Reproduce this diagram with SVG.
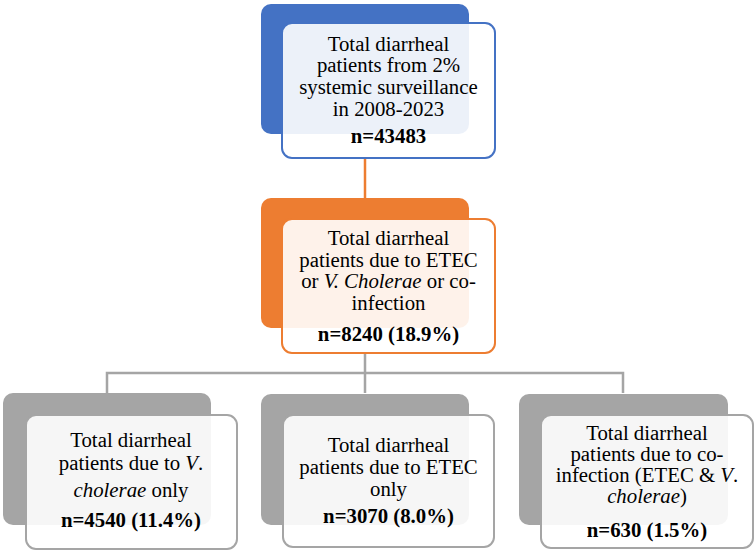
<svg xmlns="http://www.w3.org/2000/svg" width="756" height="553" viewBox="0 0 756 553">
<style>
text{font-family:"Liberation Serif","Times New Roman",serif;font-size:20.8px;fill:#000;text-anchor:middle}
.b{font-weight:bold}
.i{font-style:italic}
.front{fill:#fff;fill-opacity:0.9;stroke-width:2}
.blue .back{fill:#4472C4}.blue .front{stroke:#4472C4}
.orange .back{fill:#ED7D31}.orange .front{stroke:#ED7D31}
.gray .back{fill:#A5A5A5}.gray .front{stroke:#A5A5A5}
</style>
<g id="connectors" fill="none" stroke-width="2.5">
<line x1="365" y1="158" x2="365" y2="198" stroke="#ED7D31"/>
<path d="M365 353V373M107 393V373H623V393M365 373V393" stroke="#A5A5A5"/>
</g>
<g id="node-total" class="blue">
<rect class="back" x="261" y="4" width="208" height="130" rx="10"/>
<rect class="front" x="282" y="23" width="213" height="135" rx="10"/>
<text x="388.5" y="50.7">Total diarrheal</text>
<text x="388.5" y="72.4">patients from 2%</text>
<text x="388.5" y="94">systemic surveillance</text>
<text x="388.5" y="115.7">in 2008-2023</text>
<text class="b" x="388.5" y="143">n=43483</text>
</g>
<g id="node-etec-vc" class="orange">
<rect class="back" x="261" y="198" width="208" height="130" rx="10"/>
<rect class="front" x="282" y="219" width="213" height="134" rx="10"/>
<text x="388.5" y="245">Total diarrheal</text>
<text x="388.5" y="266.5">patients due to ETEC</text>
<text x="388.5" y="288">or <tspan class="i">V. Cholerae</tspan> or co-</text>
<text x="388.5" y="309.5">infection</text>
<text class="b" x="388.5" y="340.7">n=8240 (18.9%)</text>
</g>
<g id="node-vc" class="gray">
<rect class="back" x="3" y="393" width="208" height="132" rx="10"/>
<rect class="front" x="26" y="415" width="211" height="134" rx="10"/>
<text x="131" y="447">Total diarrheal</text>
<text x="131" y="470">patients due to <tspan class="i">V</tspan>.</text>
<text x="131" y="496.7"><tspan class="i">cholerae</tspan> only</text>
<text class="b" x="131" y="526.7">n=4540 (11.4%)</text>
</g>
<g id="node-etec" class="gray">
<rect class="back" x="261" y="394" width="208" height="131" rx="10"/>
<rect class="front" x="283" y="415" width="211" height="132" rx="10"/>
<text x="388.5" y="451.7">Total diarrheal</text>
<text x="388.5" y="474">patients due to ETEC</text>
<text x="388.5" y="496">only</text>
<text class="b" x="388.5" y="522.7">n=3070 (8.0%)</text>
</g>
<g id="node-coinfection" class="gray">
<rect class="back" x="519" y="394" width="209" height="131" rx="10"/>
<rect class="front" x="541" y="415" width="212" height="133" rx="10"/>
<text x="647" y="440">Total diarrheal</text>
<text x="647" y="461">patients due to co-</text>
<text x="647" y="482">infection (ETEC &amp; <tspan class="i">V</tspan>.</text>
<text x="647" y="503"><tspan class="i">cholerae</tspan>)</text>
<text class="b" x="647" y="536.7">n=630 (1.5%)</text>
</g>
</svg>
